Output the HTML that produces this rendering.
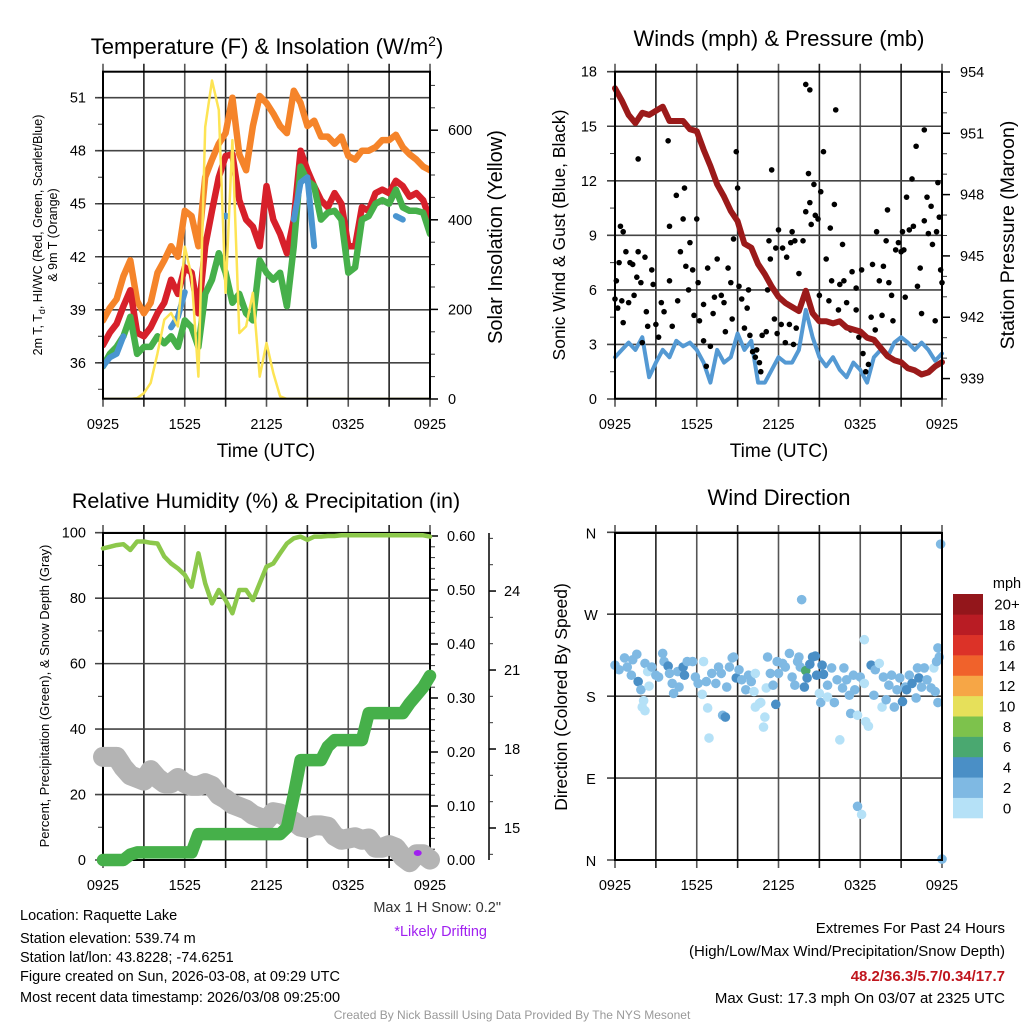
<!DOCTYPE html>
<html><head><meta charset="utf-8">
<style>
html,body{margin:0;padding:0;background:#fff;}
svg{display:block;font-family:"Liberation Sans",Arial,sans-serif;}
</style></head>
<body>
<svg id="fig" width="1024" height="1024" viewBox="0 0 1024 1024" xmlns="http://www.w3.org/2000/svg">
  <text x="267" y="54" font-size="22" text-anchor="middle">Temperature (F) &amp; Insolation (W/m<tspan dy="-8" font-size="14">2</tspan><tspan dy="8">)</tspan></text>
  <text x="779" y="46" font-size="22" text-anchor="middle">Winds (mph) &amp; Pressure (mb)</text>
  <text x="266" y="508" font-size="21.5" text-anchor="middle">Relative Humidity (%) &amp; Precipitation (in)</text>
  <text x="779" y="505" font-size="22" text-anchor="middle">Wind Direction</text>

  <text x="266" y="457" font-size="19" text-anchor="middle">Time (UTC)</text>
  <text x="779" y="457" font-size="19" text-anchor="middle">Time (UTC)</text>

  <g transform="translate(42,235) rotate(-90)" font-size="12.5" text-anchor="middle">
    <text x="0" y="0">2m T, T<tspan font-size="9" dy="3">d</tspan><tspan dy="-3">, HI/WC (Red, Green, Scarlet/Blue)</tspan></text>
    <text x="0" y="15">&amp; 9m T (Orange)</text>
  </g>
  <text transform="translate(502,237) rotate(-90)" font-size="20" text-anchor="middle">Solar Insolation (Yellow)</text>
  <text transform="translate(565,235) rotate(-90)" font-size="17.5" text-anchor="middle">Sonic Wind &amp; Gust (Blue, Black)</text>
  <text transform="translate(1014,235) rotate(-90)" font-size="19.5" text-anchor="middle">Station Pressure (Maroon)</text>
  <text transform="translate(49,696) rotate(-90)" font-size="13" text-anchor="middle">Percent, Precipitation (Green), &amp; Snow Depth (Gray)</text>
  <text transform="translate(567,697) rotate(-90)" font-size="17.5" text-anchor="middle">Direction (Colored By Speed)</text>

  <text x="1007" y="588" font-size="14.5" text-anchor="middle">mph</text>

  <text x="501" y="912" font-size="14.5" fill="#333" text-anchor="end">Max 1 H Snow: 0.2"</text>
  <text x="487" y="936" font-size="14.5" fill="#a020f0" text-anchor="end">*Likely Drifting</text>

  <g font-size="14.5">
    <text x="20" y="920">Location: Raquette Lake</text>
    <text x="20" y="943">Station elevation: 539.74 m</text>
    <text x="20" y="962">Station lat/lon: 43.8228; -74.6251</text>
    <text x="20" y="981">Figure created on Sun, 2026-03-08, at 09:29 UTC</text>
    <text x="20" y="1002">Most recent data timestamp: 2026/03/08 09:25:00</text>
  </g>
  <g font-size="15" text-anchor="end">
    <text x="1005" y="933">Extremes For Past 24 Hours</text>
    <text x="1005" y="956">(High/Low/Max Wind/Precipitation/Snow Depth)</text>
    <text x="1005" y="981" fill="#c0161e" font-weight="bold">48.2/36.3/5.7/0.34/17.7</text>
    <text x="1005" y="1003">Max Gust: 17.3 mph On 03/07 at 2325 UTC</text>
  </g>
  <text x="512" y="1019" font-size="12" fill="#999" text-anchor="middle">Created By Nick Bassill Using Data Provided By The NYS Mesonet</text>
</svg>
<script>
// ---- data (half-hour samples from 0925 UTC) ----
const xTickLabels = ["0925","1525","2125","0325","0925"];
const temp9m = [38.4,39.1,39.6,40.9,41.8,39.5,38.8,39.4,41.1,41.8,42.6,42.0,44.6,44.3,42.6,46.5,47.5,48.4,49.0,51.0,47.8,46.9,49.4,51.1,50.7,50.1,49.4,49.0,51.4,50.7,49.4,49.7,48.8,48.8,48.4,48.8,47.7,47.5,48.0,48.0,48.2,48.6,48.6,48.9,48.2,47.8,47.5,47.1,46.9];
const temp2m = [37.0,37.7,38.2,39.2,40.1,37.7,37.5,38.0,38.8,39.4,40.7,39.9,41.4,41.1,38.8,42.6,44.6,46.5,47.7,47.8,45.2,44.1,43.7,42.6,46.0,44.1,43.3,42.2,44.1,48.0,46.9,46.0,45.2,44.8,45.6,45.0,42.6,42.6,44.8,44.6,45.6,45.8,45.6,46.3,46.0,45.4,45.6,45.2,44.1];
const dewpoint = [35.8,36.5,36.9,37.5,38.6,36.5,36.9,36.9,37.5,37.1,37.5,36.9,38.4,38.0,36.9,39.9,40.7,42.2,41.1,39.4,39.9,38.8,38.4,41.8,41.1,40.7,41.1,39.2,42.6,47.1,46.3,46.0,44.1,44.5,44.6,44.1,41.1,41.4,44.1,44.3,45.0,45.2,45.0,45.8,44.8,44.6,44.6,44.5,43.3];
const heatWindChill = [35.8,36.3,36.5,37.5,null,null,null,null,null,null,38.0,38.6,40.0,null,null,null,null,null,44.3,null,null,null,null,null,null,null,null,null,44.1,46.2,46.5,42.6,null,null,null,null,null,null,null,null,null,null,null,44.3,44.1,null,null,null,null];
const solar = [0,0,0,0,0,2,13,36,102,177,192,162,340,274,50,607,711,645,237,578,147,162,237,50,125,58,6,0,0,0,0,0,0,0,0,0,0,0,0,0,0,0,0,0,0,0,0,0,0];
const sonicWind = [2.3,2.7,3.1,2.7,3.4,1.2,2.0,2.7,2.3,3.2,2.9,3.1,2.7,2.0,0.9,2.7,2.0,2.3,3.6,2.7,3.2,0.9,0.9,1.6,2.3,2.0,2.0,2.7,4.9,3.4,2.3,1.8,2.3,1.6,1.2,2.0,1.6,0.9,2.3,2.7,2.3,3.1,3.4,3.1,2.7,3.1,2.7,2.1,2.5];
const pressure = [953.2,952.6,951.9,951.5,952.0,951.9,952.1,952.3,951.6,951.6,951.6,951.2,951.1,950.2,949.4,948.5,947.9,947.2,946.7,945.6,945.4,944.6,944.1,943.5,943.0,942.7,942.5,942.3,943.3,942.2,941.8,941.8,941.7,941.8,941.5,941.4,941.3,941.0,940.9,940.5,940.1,939.9,939.8,939.5,939.4,939.2,939.3,939.6,939.8];
const gustHours = [0,0.1,0.2,0.3,0.4,0.5,0.6,0.6,0.8,1.0,1.1,1.3,1.4,1.6,1.7,1.7,1.9,2.0,2.2,2.3,2.4,2.7,2.8,3.0,3.2,3.4,3.6,3.9,4.0,4.0,4.2,4.5,4.6,4.8,5.0,5.1,5.2,5.4,5.5,5.7,5.8,6.0,6.1,6.2,6.5,6.5,6.7,6.8,7.0,7.2,7.3,7.5,7.8,8.0,8.1,8.3,8.5,8.6,8.7,8.9,9.0,9.1,9.3,9.5,9.7,9.8,9.9,10.1,10.3,10.4,10.6,10.7,10.8,11.1,11.2,11.3,11.4,11.5,11.7,11.8,11.9,12.0,12.2,12.3,12.5,12.6,12.8,12.9,13.0,13.1,13.2,13.3,13.5,13.8,14.0,14.3,14.0,14.2,14.3,14.4,14.6,14.7,14.9,15.0,15.1,15.3,15.5,15.7,15.8,15.9,16.1,16.2,16.4,16.5,16.7,16.8,17.0,17.3,17.4,17.7,17.7,17.9,18.1,18.2,18.4,18.6,18.8,18.9,19.1,19.2,19.4,19.6,19.7,19.9,20.0,20.1,20.3,20.4,20.6,20.8,21.0,21.1,21.2,21.3,21.4,21.6,21.8,21.9,22.1,22.2,22.4,22.5,22.7,22.7,22.9,23.0,23.2,23.3,23.5,23.6,23.7,23.8,23.9,24.0];
const gustValues = [5.5,6.5,5.0,7.5,9.5,5.4,9.2,4.2,8.1,5.3,7.5,7.4,5.7,6.7,13.2,8.1,6.4,3.1,7.8,4.8,4.0,7.1,6.3,4.1,3.4,5.3,4.8,14.2,9.5,6.5,4.0,11.2,5.4,8.1,9.9,11.6,7.3,6.0,8.6,7.1,4.6,9.9,6.4,4.3,3.2,5.2,1.8,7.2,2.9,4.7,5.6,7.7,5.7,5.3,3.7,7.2,6.4,4.4,8.8,13.6,11.6,6.2,5.5,3.9,5.0,6.0,3.5,2.6,2.3,2.7,2.0,1.5,3.5,3.7,6.0,8.7,7.7,12.6,4.4,8.3,3.6,9.3,4.1,8.3,3.1,7.8,4.1,8.6,9.2,3.0,8.7,3.9,6.9,8.7,17.3,17.0,10.3,12.4,10.8,9.6,11.8,10.1,9.9,5.7,11.4,13.6,7.7,5.4,9.4,6.5,10.7,15.9,4.9,6.3,8.5,6.5,5.3,3.8,7.0,4.9,6.1,3.4,7.1,2.5,1.5,1.9,4.5,7.4,3.8,9.2,6.5,4.6,7.3,8.7,10.4,6.4,5.7,4.3,8.2,8.6,8.1,9.2,8.2,5.6,11.1,9.3,12.1,9.5,13.9,6.2,7.2,4.7,14.8,9.8,11.1,9.1,10.6,8.5,4.3,9.2,11.9,10.0,7.1,6.4];
const relHumidity = [95.2,95.7,96.2,96.5,94.7,97.3,97.3,96.9,96.7,92.7,90.6,89.1,87.1,83.5,93.7,84.5,78.4,82.5,79.4,75.4,82.5,82.5,79.4,84.5,89.6,90.6,93.7,96.7,98.3,98.8,97.8,98.8,98.8,99.0,99.0,99.2,99.2,99.2,99.2,99.2,99.2,99.2,99.2,99.2,99.2,99.2,99.2,99.2,98.8];
const precip = [0,0,0,0,0.01,0.014,0.014,0.014,0.014,0.014,0.014,0.014,0.014,0.014,0.048,0.048,0.048,0.048,0.048,0.048,0.048,0.048,0.048,0.048,0.048,0.048,0.048,0.06,0.12,0.185,0.185,0.185,0.185,0.21,0.222,0.222,0.222,0.222,0.222,0.272,0.272,0.272,0.272,0.272,0.272,0.29,0.305,0.32,0.341];
const snowDepth = [17.7,17.7,17.7,17.3,17.0,16.9,16.8,17.2,16.9,16.7,16.7,16.9,16.7,16.6,16.6,16.7,16.6,16.25,16.1,15.9,15.8,15.7,15.5,15.4,15.3,15.6,15.55,15.4,15.25,15.05,15.0,15.1,15.1,15.05,14.7,14.55,14.6,14.65,14.55,14.6,14.25,14.25,14.35,14.25,13.9,13.7,14.0,14.0,13.8];
const driftHour = [23.1];
const driftDepth = [14.05];
const dirHours = [0,0.3,0.7,0.9,1.2,1.3,1.6,1.7,1.9,2.1,2.0,2.2,2.2,2.4,2.5,2.7,3.0,3.2,3.5,3.6,3.9,4.0,4.2,4.3,4.6,4.7,5.0,5.1,5.3,5.7,5.9,6.1,6.4,6.5,6.7,6.8,6.9,7.1,7.4,7.6,7.8,7.9,8.1,8.2,8.4,8.6,8.7,8.9,9.1,9.3,9.6,9.8,10.0,10.2,10.3,10.3,10.6,10.7,10.9,11.0,11.1,11.2,11.4,11.6,11.8,11.9,12.0,12.3,12.5,12.8,13.0,13.2,13.4,13.5,13.6,13.7,13.9,14.0,14.1,14.3,14.5,14.7,14.8,15.0,15.1,15.2,15.3,15.6,15.6,15.9,16.1,16.3,16.5,16.7,16.8,17.0,17.2,17.3,17.5,17.6,17.8,17.8,18.1,18.0,18.3,18.3,18.4,18.6,18.8,19.0,19.1,19.4,19.6,19.7,19.9,20.1,20.3,20.5,20.7,20.9,21.1,21.3,21.4,21.6,21.8,22.1,22.2,22.3,22.5,22.7,22.9,23.2,23.4,23.5,23.6,23.7,23.7,23.8,23.9,24.0];
const dirDegrees = [214,209,222,212,203,220,226,196,187,175,168,164,216,207,191,212,203,201,227,218,213,205,194,183,207,190,212,203,218,218,201,194,182,218,196,167,134,205,194,212,205,159,157,190,212,222,223,200,209,198,187,203,196,185,205,168,172,173,146,157,189,223,205,192,171,218,205,216,212,227,201,192,218,223,212,286,190,208,200,215,223,224,203,183,173,214,204,192,179,211,173,198,132,189,211,198,181,161,203,187,59,159,50,201,194,242,152,147,214,181,209,216,168,201,176,192,203,168,187,200,174,190,187,203,194,178,211,200,190,211,198,189,211,185,218,173,233,223,347,1];
const dirSpeeds = [2,2,2,2,2,2,2,4,2,0,0,0,2,0,0,2,2,2,2,2,4,2,2,2,2,2,4,4,2,2,2,2,0,0,2,0,0,2,2,2,2,2,4,2,2,2,2,4,2,2,2,2,2,0,0,0,0,0,0,0,0,2,2,2,3,2,2,2,2,2,2,2,2,2,2,2,4,6,4,4,4,4,4,0,2,4,4,2,0,2,2,2,0,2,2,2,2,2,2,2,2,0,0,2,0,0,0,0,3,2,2,0,0,2,2,2,2,2,2,2,3,2,4,2,4,2,2,4,2,2,2,2,0,2,2,2,2,2,2,2,2,2];
const speedBinLabels = ["0","2","4","6","8","10","12","14","16","18","20+"];
const speedBinColors = ["#b5e1f7","#7fb9e3","#4a8fc6","#4aa870","#7dc24c","#e6e05a","#f6a646","#f0622b","#dc3228","#b91c24","#93161b"];
const tempTicks = [36,39,42,45,48,51];
const solarTicks = [0,200,400,600];
const windTicks = [0,3,6,9,12,15,18];
const pressureTicks = [939,942,945,948,951,954];
const rhTicks = [0,20,40,60,80,100];
const precipTicks = [0,0.1,0.2,0.3,0.4,0.5,0.6];
const snowTicks = [15,18,21,24];
const dirTicks = [0,90,180,270,360];
const dirTickLabels = ["N","E","S","W","N"];

// ---- geometry / scales ----
const NS = "http://www.w3.org/2000/svg";
const svg = document.getElementById("fig");
const PW = 327;
function xL(h){ return 103 + h/24*PW; }
function xR(h){ return 615 + h/24*PW; }
function yTemp(v){ return 399 - (v-33.95)*17.67; }
function ySolar(v){ return 399 - v*0.448; }
function yWind(v){ return 399 - v*(327.3/18); }
function yPres(v){ return 399 - (v-938)*20.44; }
function yRH(v){ return 860 - v*3.273; }
function yPrecip(v){ return 860 - v*540; }
function ySnow(v){ return 828 - (v-15)*26.33; }
function yDir(d){ return 860 - d*(327.7/360); }

function mk(tag, attrs, parent){
  const e = document.createElementNS(NS, tag);
  for (const k in attrs) e.setAttribute(k, attrs[k]);
  (parent||svg).appendChild(e);
  return e;
}
function txt(parent, x, y, s, size, anchor){
  const t = mk("text", {x:x, y:y, "font-size":size, "text-anchor":anchor}, parent);
  t.textContent = s;
  return t;
}
function pathFrom(arr, xf, yf){
  let d = "", pen = false;
  arr.forEach(function(v,i){
    if (v === null){ pen = false; return; }
    d += (pen ? "L" : "M") + xf(i*0.5).toFixed(1) + "," + yf(v).toFixed(1);
    pen = true;
  });
  return d;
}

function grid(g, x0, y0, yPix){
  for (let k=0;k<=8;k++){
    const x = x0 + k*PW/8;
    const l = mk("line", {x1:x, x2:x, y1:y0-8, y2:y0+PW+8, stroke:(k%2?"#222":"#555"), "stroke-width":1.6}, g);
    
    
  }
  yPix.forEach(function(y){
    const l = mk("line", {x1:x0-8, x2:x0+PW, y1:y, y2:y, stroke:"#444", "stroke-width":1.6}, g);
    
    
  });
}
function frame(g, x0, y0){
  const r = mk("rect", {x:x0, y:y0, width:PW, height:PW, fill:"none", stroke:"#000", "stroke-width":2}, g);
  
  
}
function xLabels(g, x0, y){
  xTickLabels.forEach(function(s,i){
    const t = txt(g, x0 + i*PW/4, y, s, 14.5, "middle");
    
    
  });
}
function minorTicks(g, x, vals, yf, dir, len){
  vals.forEach(function(v){
    const y = yf(v);
    const l = mk("line", {x1:x, x2:x+dir*len, y1:y, y2:y, stroke:"#333", "stroke-width":1}, g);
    
    
  });
}
function range(a,b,s){ const r=[]; for(let v=a; v<=b+1e-9; v+=s) r.push(+v.toFixed(3)); return r; }

// ================= Panel 1: temperature =================
const g1 = mk("g", {});


grid(g1, 103, 71.7, tempTicks.map(yTemp));
minorTicks(g1, 103, range(34.5,52,1.5), yTemp, -1, 5);
minorTicks(g1, 430, range(50,700,50), ySolar, 1, 5);
solarTicks.forEach(function(v){
  const l = mk("line", {x1:430, x2:438, y1:ySolar(v), y2:ySolar(v), stroke:"#000", "stroke-width":1.5}, g1);
  
  
  const t = txt(g1, 448, ySolar(v)+5, String(v), 14.5, "start");
  
  
});
tempTicks.forEach(function(v){
  const t = txt(g1, 86, yTemp(v)+5, String(v), 14.5, "end");
  
  
});
const clip1 = mk("clipPath", {id:"c1"});
mk("rect", {x:103, y:71.7, width:PW, height:PW}, clip1);
const s1 = mk("g", {"clip-path":"url(#c1)"}, g1);


const pOrange = mk("path", {d:pathFrom(temp9m, xL, yTemp), fill:"none", stroke:"#f5842a", "stroke-width":6.5, "stroke-linejoin":"round", "stroke-linecap":"round"}, s1);


const pRed = mk("path", {d:pathFrom(temp2m, xL, yTemp), fill:"none", stroke:"#d7202a", "stroke-width":6.5, "stroke-linejoin":"round", "stroke-linecap":"round"}, s1);


const pGreen = mk("path", {d:pathFrom(dewpoint, xL, yTemp), fill:"none", stroke:"#46b04a", "stroke-width":6.5, "stroke-linejoin":"round", "stroke-linecap":"round"}, s1);


const pBlue = mk("path", {d:pathFrom(heatWindChill, xL, yTemp), fill:"none", stroke:"#4a95d0", "stroke-width":6, "stroke-linejoin":"round", "stroke-linecap":"round"}, s1);


heatWindChill.forEach(function(v,i){
  if (v===null) return;
  if ((i>0 && heatWindChill[i-1]!==null) || (i<heatWindChill.length-1 && heatWindChill[i+1]!==null)) return;
  const c = mk("circle", {cx:xL(i*0.5), cy:yTemp(v), r:3.5, fill:"#4a95d0"}, s1);
  
  
});
const pSolar = mk("path", {d:pathFrom(solar, xL, ySolar), fill:"none", stroke:"#fde454", "stroke-width":2.5, "stroke-linejoin":"round"}, s1);


frame(g1, 103, 71.7);
xLabels(g1, 103, 429);

// ================= Panel 2: winds =================
const g2 = mk("g", {});


grid(g2, 615, 71.7, windTicks.map(yWind));
minorTicks(g2, 615, range(1.5,16.5,3), yWind, -1, 5);
minorTicks(g2, 942, range(938,954,1), yPres, 1, 5);
pressureTicks.forEach(function(v){
  const l = mk("line", {x1:942, x2:950, y1:yPres(v), y2:yPres(v), stroke:"#000", "stroke-width":1.5}, g2);
  
  
  const t = txt(g2, 960, yPres(v)+5, String(v), 14.5, "start");
  
  
});
windTicks.forEach(function(v){
  const t = txt(g2, 597, yWind(v)+5, String(v), 14.5, "end");
  
  
});
const pWind = mk("path", {d:pathFrom(sonicWind, xR, yWind), fill:"none", stroke:"#5499d3", "stroke-width":4, "stroke-linejoin":"round", "stroke-linecap":"round"}, g2);


gustHours.forEach(function(h,i){
  const c = mk("circle", {cx:xR(h), cy:yWind(gustValues[i]), r:2.8, fill:"#000"}, g2);
  
  
});
const pPres = mk("path", {d:pathFrom(pressure, xR, yPres), fill:"none", stroke:"#9b1a1a", "stroke-width":6, "stroke-linejoin":"round", "stroke-linecap":"round"}, g2);


frame(g2, 615, 71.7);
xLabels(g2, 615, 429);

// ================= Panel 3: humidity / precip / snow =================
const g3 = mk("g", {});


grid(g3, 103, 533, rhTicks.map(yRH));
minorTicks(g3, 103, range(10,90,20), yRH, -1, 5);
minorTicks(g3, 430, range(0.02,0.6,0.02), yPrecip, 1, 5);
precipTicks.forEach(function(v){
  const l = mk("line", {x1:430, x2:438, y1:yPrecip(v), y2:yPrecip(v), stroke:"#000", "stroke-width":1.5}, g3);
  
  
  const t = txt(g3, 447, yPrecip(v)+5, v.toFixed(2), 14.5, "start");
  
  
});
rhTicks.forEach(function(v){
  const t = txt(g3, 86, yRH(v)+5, String(v), 14.5, "end");
  
  
});
const snowAxis = mk("line", {x1:489, x2:489, y1:533, y2:860, stroke:"#000", "stroke-width":1.5}, g3);


minorTicks(g3, 489, range(14,26,1), ySnow, 1, 4);
snowTicks.forEach(function(v){
  const l = mk("line", {x1:489, x2:496, y1:ySnow(v), y2:ySnow(v), stroke:"#000", "stroke-width":1.5}, g3);
  
  
  const t = txt(g3, 504, ySnow(v)+5, String(v), 14.5, "start");
  
  
});
frame(g3, 103, 533);
const pSnow = mk("path", {d:pathFrom(snowDepth, xL, ySnow), fill:"none", stroke:"#b4b4b4", "stroke-width":20, "stroke-linejoin":"round", "stroke-linecap":"round"}, g3);


const pPrecip = mk("path", {d:pathFrom(precip, xL, yPrecip), fill:"none", stroke:"#46b04a", "stroke-width":12.5, "stroke-linejoin":"round", "stroke-linecap":"round"}, g3);


const pRH = mk("path", {d:pathFrom(relHumidity, xL, yRH), fill:"none", stroke:"#8cc84b", "stroke-width":4.5, "stroke-linejoin":"round", "stroke-linecap":"round"}, g3);


driftHour.forEach(function(h,i){
  const c = mk("ellipse", {cx:xL(h), cy:ySnow(driftDepth[i]), rx:4, ry:3, fill:"#a020f0"}, g3);
  
  
});
xLabels(g3, 103, 890);

// ================= Panel 4: wind direction =================
const g4 = mk("g", {});


grid(g4, 615, 533, dirTicks.map(yDir));
dirTicks.forEach(function(v,i){
  const t = txt(g4, 591, yDir(v)+6, dirTickLabels[i], 14.5, "middle");
  
  
});
function speedColor(s){
  if (s === undefined || s === null) s = 2;
  let b = Math.floor((s+1)/2);
  if (b < 0) b = 0;
  if (b > 10) b = 10;
  return speedBinColors[b];
}
dirHours.forEach(function(h,i){
  const c = mk("circle", {cx:xR(h), cy:yDir(dirDegrees[i]), r:4.8, fill:speedColor(dirSpeeds[i])}, g4);
  
  
});
frame(g4, 615, 533);
xLabels(g4, 615, 890);

// colorbar
const cb = mk("g", {});


const binH = (818-594)/speedBinColors.length;
speedBinColors.forEach(function(col,i){
  const y = 818 - (i+1)*binH;
  const r = mk("rect", {x:953, y:y, width:30, height:binH+0.3, fill:col}, cb);
  
  
  const t = txt(cb, 1007, y+binH/2+5.5, speedBinLabels[i], 15, "middle");
  
  
});
</script>
</body></html>
